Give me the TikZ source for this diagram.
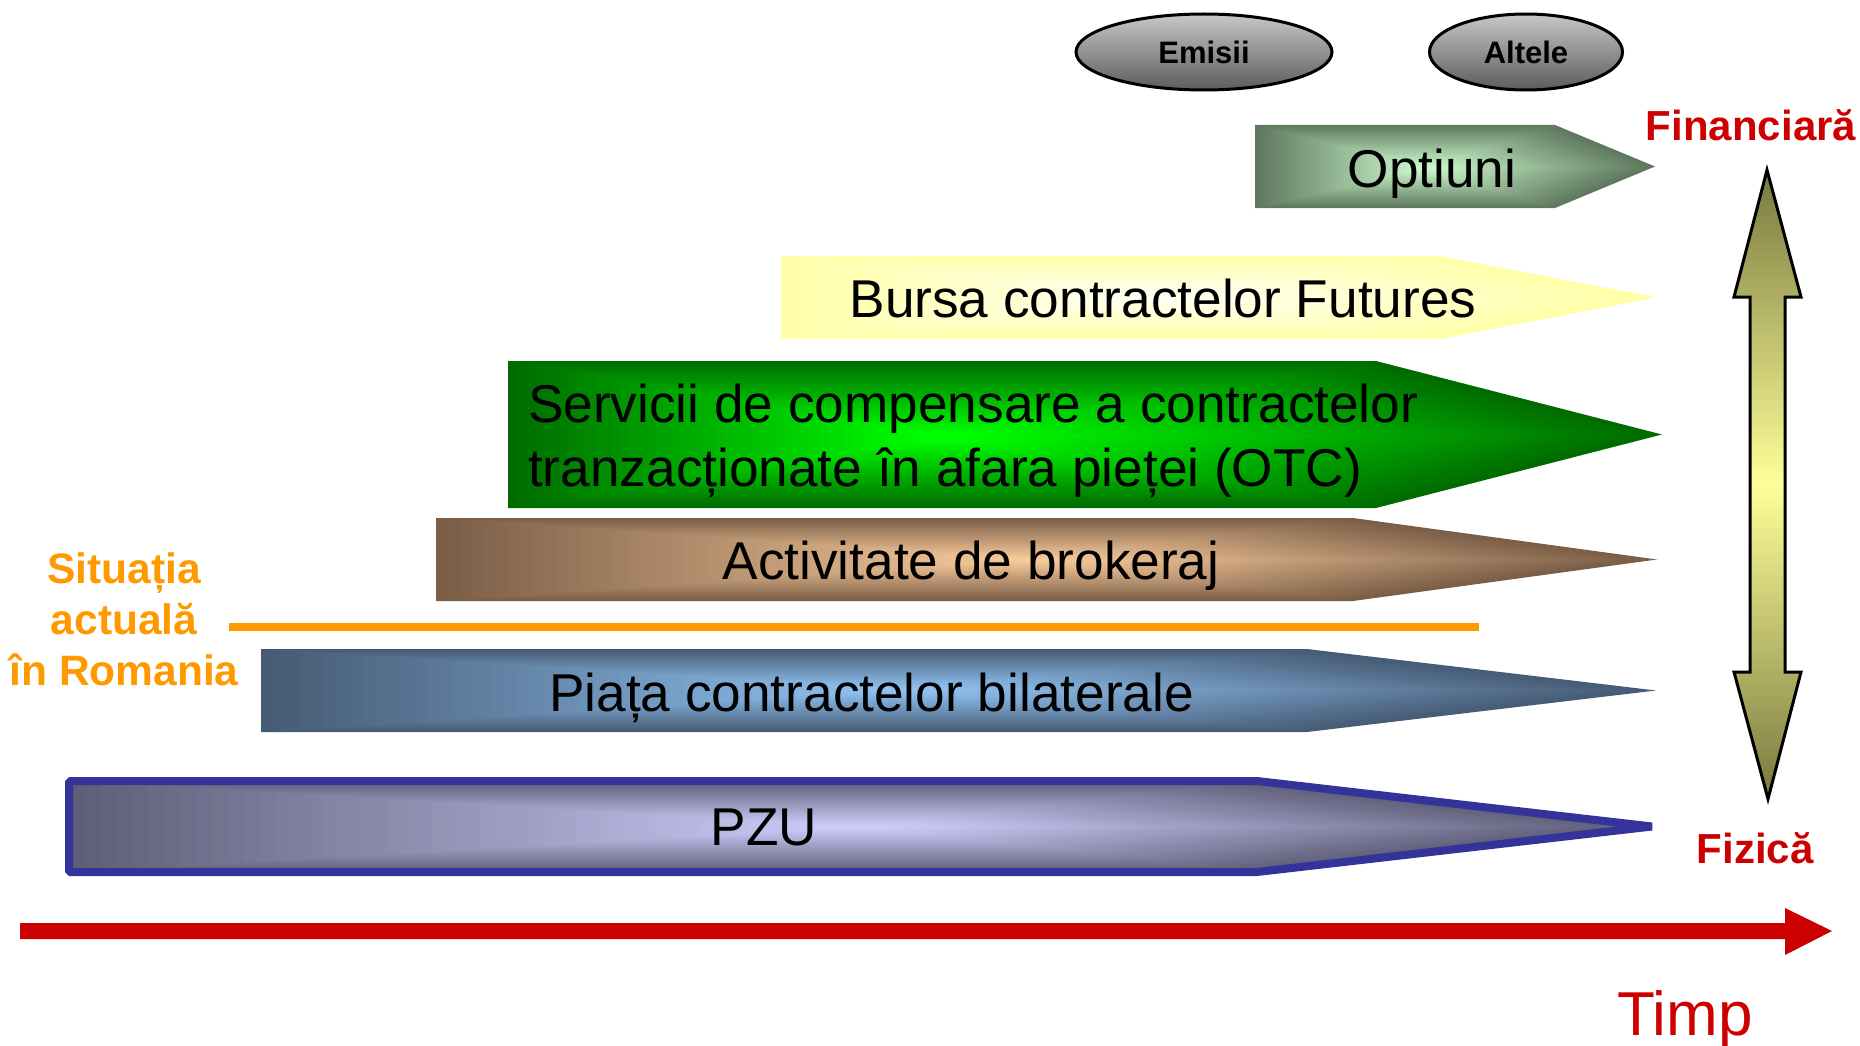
\documentclass[tikz,border=0pt]{standalone}
\usepackage{fontspec}
\setmainfont{Liberation Sans}
\usetikzlibrary{shapes.geometric}
\definecolor{redc}{HTML}{CC0000}
\definecolor{orangec}{HTML}{FF9900}
\definecolor{pzuborder}{HTML}{333399}
\definecolor{optD}{HTML}{5E785E}\definecolor{optL}{HTML}{CCF7CC}
\definecolor{burD}{HTML}{FFFFA8}\definecolor{burL}{HTML}{FFFFF2}
\definecolor{serD}{HTML}{006C00}\definecolor{serL}{HTML}{00FF00}
\definecolor{actD}{HTML}{7A5E47}\definecolor{actL}{HTML}{F7C99A}
\definecolor{piaD}{HTML}{465B74}\definecolor{piaL}{HTML}{90C2F2}
\definecolor{pzuD}{HTML}{5E5E78}\definecolor{pzuL}{HTML}{CCCCFA}
\definecolor{olv}{HTML}{78783F}\definecolor{yel}{HTML}{FFFF99}
% path gradient: #1 left x, #2 top y, #3 bottom y, #4 shoulder x, #5 tip x,
% #6 dark, #7 light, #8 centre x, #9 centre y
\newcommand{\mybox}[9]{%
  \foreach \k in {0,...,48}{%
    \pgfmathsetmacro{\s}{1-\k/50}%
    \pgfmathsetmacro{\p}{100*\k/48}%
    \pgfmathsetmacro{\mid}{(#2+#3)/2}%
    \fill[#7!\p!#6]
      ({#8+\s*(#1-#8)},{#9+\s*(#2-#9)}) --
      ({#8+\s*(#4-#8)},{#9+\s*(#2-#9)}) --
      ({#8+\s*(#5-#8)},{#9+\s*(\mid-#9)}) --
      ({#8+\s*(#4-#8)},{#9+\s*(#3-#9)}) --
      ({#8+\s*(#1-#8)},{#9+\s*(#3-#9)}) -- cycle;
  }}
\tikzset{
  boxtext/.style={font=\fontsize{53.2}{64}\selectfont, text=black, inner sep=0pt},
  redlabel/.style={font=\bfseries\fontsize{42}{50}\selectfont, text=redc, inner sep=0pt},
  orangelabel/.style={font=\bfseries\fontsize{42.5}{51}\selectfont, text=orangec, inner sep=0pt, align=center},
  oval/.style={ellipse, draw=black, line width=3pt, top color=black!22, bottom color=black!64,
    inner sep=0pt, font=\bfseries\fontsize{31}{36}\selectfont},
  timeline/.style={fill=redc},
  nowline/.style={draw=orangec, line width=8pt},
  scalearrow/.style={draw=black, line width=3pt, line join=miter, top color=olv, bottom color=olv, middle color=yel}
}
\begin{document}
\begin{tikzpicture}[x=1pt,y=-1pt]
\useasboundingbox (0,0) rectangle (1860,1046);

% ovals
\node[oval, minimum width=256pt, minimum height=76pt] (emisii) at (1204,52) {Emisii};
\node[oval, minimum width=193pt, minimum height=76pt] (altele) at (1526,52) {Altele};

% arrow boxes
\mybox{1255}{125}{208}{1555}{1655}{optD}{optL}{1425}{168}
\node[boxtext, anchor=base] (optiuni) at (1432,187) {Optiuni};

\mybox{781}{256}{339}{1440}{1657}{burD}{burL}{1160}{297}
\node[boxtext, anchor=base] (bursa) at (1163,317) {Bursa contractelor Futures};

\mybox{508}{361}{508}{1376}{1662}{serD}{serL}{940}{437}
\node[boxtext, anchor=base west, align=left] (servicii) at (528,486) {Servicii de compensare a contractelor\\tranzacționate în afara pieței (OTC)};

\mybox{436}{518}{601}{1353}{1657}{actD}{actL}{1030}{560}
\node[boxtext, anchor=base] (activ) at (971,579) {Activitate de brokeraj};

\mybox{261}{649}{732}{1307}{1656}{piaD}{piaL}{900}{690}
\node[boxtext, anchor=base west] (piata) at (549,711) {Piața contractelor bilaterale};

\mybox{69}{781}{872}{1257}{1652}{pzuD}{pzuL}{860}{827}
\draw[pzuborder, line width=8pt, line join=bevel] (69,781) -- (1257,781) -- (1652,826.5) -- (1257,872) -- (69,872) -- cycle;
\node[boxtext, anchor=base] (pzu) at (764,845) {PZU};

% current situation line
\coordinate (n1) at (229,627);
\coordinate (n2) at (1479,627);
\draw[nowline] (n1) -- (n2);
\node[orangelabel, anchor=base] (situatia) at (124,685) {Situația\\actuală\\în Romania};

% vertical scale arrow
\draw[scalearrow] (1767,170) -- (1801,297) -- (1785,297) -- (1785,672) -- (1801,672) -- (1768,799)
  -- (1734,672) -- (1750,672) -- (1750,297) -- (1734,297) -- cycle;
\node[redlabel, anchor=base] (financiara) at (1751,140) {Financiară};
\node[redlabel, anchor=base] (fizica) at (1755,863) {Fizică};

% time arrow
\fill[timeline] (20,923) -- (1785,923) -- (1785,908) -- (1832,931) -- (1785,955) -- (1785,939) -- (20,939) -- cycle;
\node[font=\fontsize{62}{70}\selectfont, text=redc, inner sep=0pt, anchor=base] (timp) at (1685,1035) {Timp};
\end{tikzpicture}
\end{document}
